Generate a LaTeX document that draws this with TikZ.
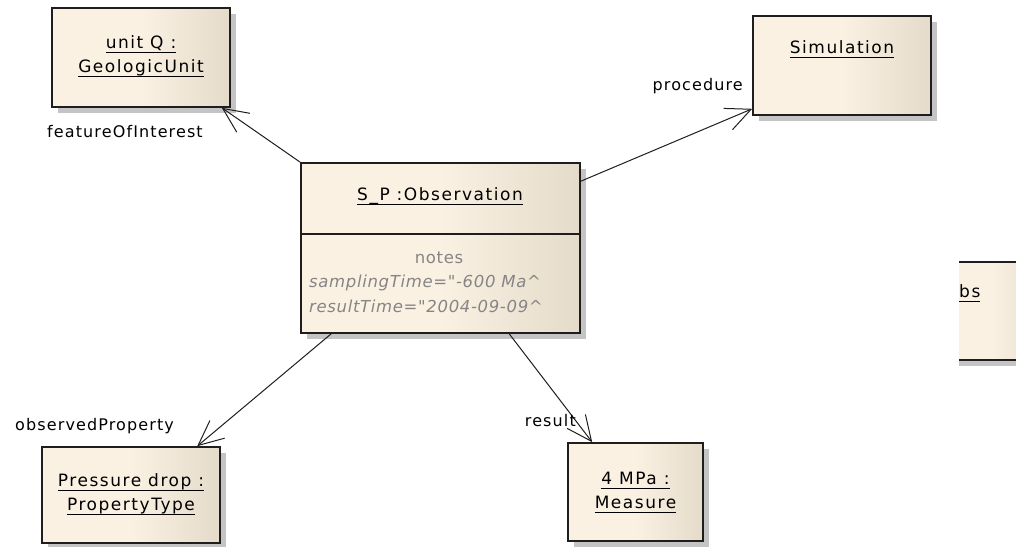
\documentclass[tikz,border=0pt]{standalone}
\usepackage{fontspec}
\setmainfont{DejaVu Sans}[LetterSpace=7, Ligatures=TeXOff]
\newfontfamily\notefont{DejaVu Sans}[LetterSpace=4, Ligatures=TeXOff]
\newfontfamily\boxfont{DejaVu Sans}[LetterSpace=9, Ligatures=TeXOff]
\usetikzlibrary{arrows.meta,calc,shadows}
\definecolor{boxL}{HTML}{FBF1E3}
\definecolor{boxR}{HTML}{E5DBCA}
\definecolor{shadowc}{HTML}{C4C4C4}
\definecolor{edgec}{HTML}{1E1E1E}
\definecolor{notec}{HTML}{858585}
\newcommand\ulx[1]{\vtop{\hbox{\raisebox{0pt}[\height][0pt]{#1}}\kern3.5pt\hrule height1.3pt}}
\tikzset{
  umlbox/.style={draw=edgec, line width=1.6pt, left color=boxL, right color=boxR, middle color=boxL,
    inner sep=0pt, drop shadow={shadow xshift=6pt, shadow yshift=-6pt, fill=shadowc, opacity=1, draw=none}},
  boxtext/.style={font=\boxfont\fontsize{17}{24}\selectfont, align=center, inner sep=0pt, text=black},
  notetext/.style={font=\notefont\fontsize{16.5}{24}\selectfont, inner sep=0pt, text=notec},
  noteital/.style={font=\notefont\fontsize{16.5}{24}\selectfont\itshape, inner sep=0pt, text=notec},
  lbl/.style={font=\fontsize{16}{19}\selectfont, inner sep=0pt},
  assoc/.style={draw=edgec, line width=1pt, -{Straight Barb[length=25pt, width=23pt, line width=1pt]}}
}
\begin{document}
\begin{tikzpicture}[x=1pt,y=-1pt]
\useasboundingbox[fill=white] (0,0) rectangle (1016,546);

% boxes
\node[umlbox, minimum width=178pt, minimum height=99pt] (unitQ) at (141,57.5) {};
\node[boxtext, anchor=base] (unitQt) at (141,72) {\ulx{unit Q :}\\\ulx{GeologicUnit}};

\node[umlbox, minimum width=178pt, minimum height=99pt] (sim) at (842,65.5) {};
\node[boxtext, anchor=base] (simt) at (842,53) {\ulx{Simulation}};

\node[umlbox, minimum width=279pt, minimum height=170pt] (obs) at (440.5,248) {};
\draw[draw=edgec, line width=1.6pt] ($(obs.north west)+(0,72)$) -- ($(obs.north east)+(0,72)$);
\node[boxtext, anchor=base] (obst) at (440,200) {\ulx{S\_P :Observation}};
\node[notetext, anchor=base] (notes) at (439,263) {notes};
\node[noteital, anchor=base west] (st) at (309,287) {samplingTime="-600 Ma\textasciicircum};
\node[noteital, anchor=base west] (rt) at (309,312) {resultTime="2004-09-09\textasciicircum};

\node[umlbox, minimum width=178pt, minimum height=96pt] (pd) at (131,495) {};
\node[boxtext, anchor=base] (pdt) at (131,510) {\ulx{Pressure drop :}\\\ulx{PropertyType}};

\node[umlbox, minimum width=135pt, minimum height=98pt] (mpa) at (635.5,492) {};
\node[boxtext, anchor=base] (mpat) at (635.5,508) {\ulx{4 MPa :}\\\ulx{Measure}};

\begin{scope}
\clip (959,240) rectangle (1016,380);
\node[umlbox, minimum width=120pt, minimum height=98pt, anchor=north west] (part) at (930,261) {};
\node[boxtext, anchor=base west] (partt) at (959,297) {\ulx{bs}};
\end{scope}

% connectors
\draw[assoc] (obs.north west) -- ($(unitQ.south east)+(-9,0)$);
\draw[assoc] ($(obs.north east)+(0,19)$) -- ($(sim.south west)+(0,-7)$);
\draw[assoc] ($(obs.south west)+(31,0)$) -- ($(pd.north west)+(156,0)$);
\draw[assoc] ($(obs.south west)+(209,0)$) -- ($(mpa.north west)+(25,0)$);

% labels
\node[lbl, anchor=base west] (l1) at (47,137) {featureOfInterest};
\node[lbl, anchor=base east] (l2) at (743,90) {procedure};
\node[lbl, anchor=base west] (l3) at (15,430) {observedProperty};
\node[lbl, anchor=base east] (l4) at (576,426) {result};
\end{tikzpicture}
\end{document}
